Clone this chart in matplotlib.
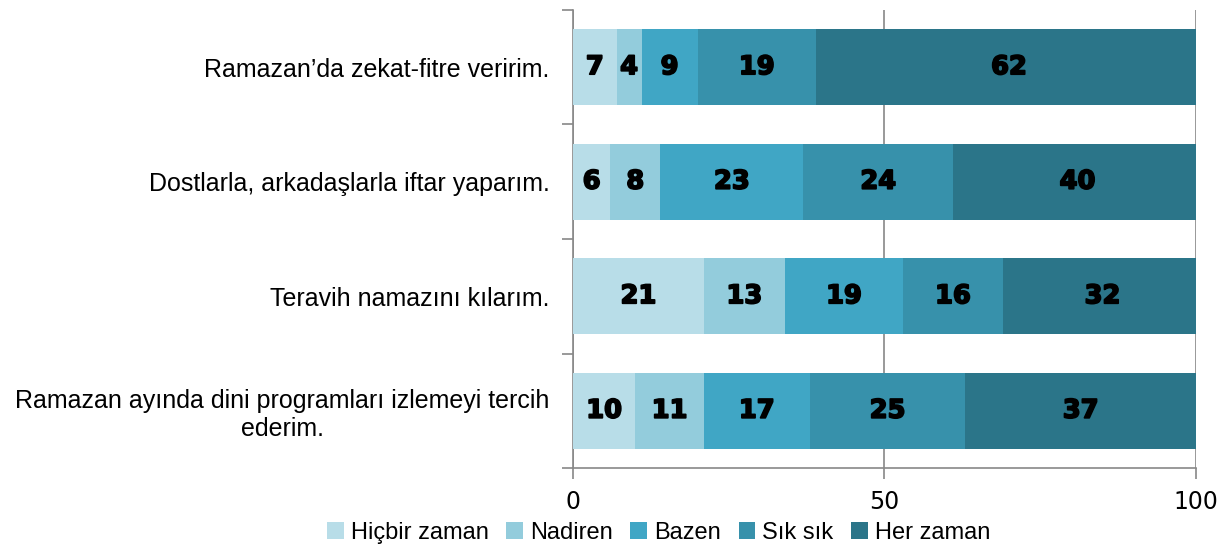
import numpy as np
import matplotlib.pyplot as plt
import matplotlib.patheffects as pe
from matplotlib.patches import Patch

# Data
categories = [
    "Ramazan’da zekat-fitre veririm.",
    "Dostlarla, arkadaşlarla iftar yaparım.",
    "Teravih namazını kılarım.",
    "Ramazan ayında dini programları izlemeyi tercih\nederim.",
]
series_names = ["Hiçbir zaman", "Nadiren", "Bazen", "Sık sık", "Her zaman"]
hicbir = [7, 6, 21, 10]
nadiren = [4, 8, 13, 11]
bazen = [9, 23, 19, 17]
sik = [19, 24, 16, 25]
her = [62, 40, 32, 37]
x_ticks = [0, 50, 100]

colors = ["#B8DDE8", "#93CCDC", "#40A6C5", "#3791AB", "#2B7589"]
series = [hicbir, nadiren, bazen, sik, her]

fig = plt.figure(figsize=(12.31, 5.5), dpi=100)
ax = fig.add_axes([0.4655, 0.149, 0.506, 0.833])

# heavier digits like the original's black face
heavy = [pe.withStroke(linewidth=1.3, foreground="black")]

y = np.arange(len(categories))
left = np.zeros(len(categories))
for vals, col, name in zip(series, colors, series_names):
    vals = np.array(vals, dtype=float)
    ax.barh(y, vals, left=left, height=0.66, color=col, label=name, zorder=3)
    for yi, l, v in zip(y, left, vals):
        ax.text(l + v / 2, yi, f"{int(v)}", ha="center", va="center",
                fontsize=18.5, fontweight="heavy", color="black", zorder=4,
                family="DejaVu Sans", path_effects=heavy)
    left += vals

ax.set_xlim(0, 100)
ax.set_ylim(len(categories) - 0.5, -0.5)
ax.set_yticks(y)
ax.set_yticklabels(categories, fontsize=18, family="Liberation Sans",
                   ha="right", multialignment="center")
ax.tick_params(axis="y", which="major", length=0, pad=17)
ax.set_yticks(np.arange(-0.5, len(categories), 1.0), minor=True)
ax.tick_params(axis="y", which="minor", length=8, color="#888888", width=1.2)

ax.set_xticks(x_ticks)
ax.set_xticklabels([str(t) for t in x_ticks], fontsize=17, family="DejaVu Sans")
ax.tick_params(axis="x", length=8, color="#888888", width=1.2, pad=8)
ax.grid(axis="x", color="#888888", linewidth=1.2, zorder=0)

for s in ["top", "right"]:
    ax.spines[s].set_visible(False)
for s in ["left", "bottom"]:
    ax.spines[s].set_color("#888888")
    ax.spines[s].set_linewidth(1.2)

handles = [Patch(facecolor=c, label=n) for c, n in zip(colors, series_names)]
fig.legend(handles=handles, loc="center", bbox_to_anchor=(0.535, 0.031), ncol=5,
           frameon=False, handlelength=0.7, handleheight=0.7,
           handletextpad=0.3, columnspacing=0.75,
           prop={"family": "Liberation Sans", "size": 17})

fig.savefig("out.png", dpi=100)
